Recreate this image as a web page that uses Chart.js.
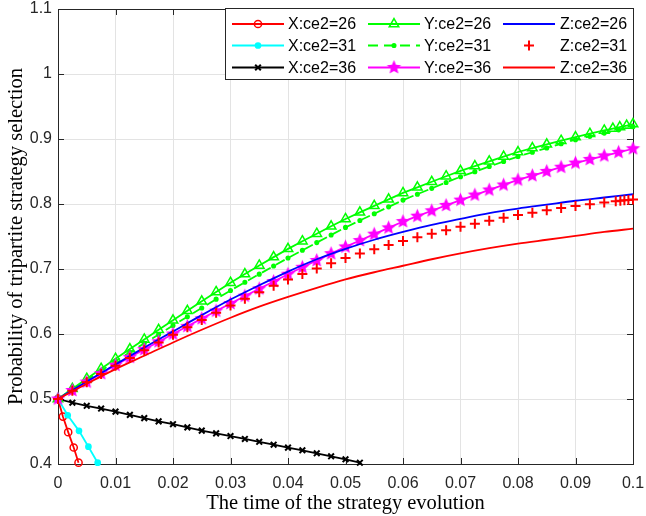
<!DOCTYPE html>
<html>
<head>
<meta charset="utf-8">
<script src="https://cdn.jsdelivr.net/npm/chart.js@4.4.7/dist/chart.umd.min.js"></script>
<style>
  html, body { margin: 0; padding: 0; background: #fff; }
  #wrap { width: 646px; height: 516px; }
</style>
</head>
<body>
<div id="wrap"><canvas id="c" width="646" height="516"></canvas></div>
<script>
// time grids
const tGrid = [0, 0.0025, 0.005, 0.0075, 0.01, 0.0125, 0.015, 0.0175, 0.02, 0.0225, 0.025, 0.0275, 0.03, 0.0325, 0.035, 0.0375, 0.04, 0.0425, 0.045, 0.0475, 0.05, 0.0525, 0.055, 0.0575, 0.06, 0.0625, 0.065, 0.0675, 0.07, 0.0725, 0.075, 0.0775, 0.08, 0.0825, 0.085, 0.0875, 0.09, 0.0925, 0.095, 0.0975, 0.1];
const tFine = [0, 0.005, 0.01, 0.015, 0.02, 0.025, 0.03, 0.035, 0.04, 0.045, 0.05, 0.055, 0.06, 0.065, 0.07, 0.075, 0.08, 0.085, 0.09, 0.095, 0.1];

const tX26 = [0, 0.00085, 0.00177, 0.00273, 0.00357];
const yX26 = [0.5, 0.473, 0.449, 0.4254, 0.402];
const tX31 = [0, 0.00169, 0.00365, 0.00529, 0.0069];
const yX31 = [0.5, 0.475, 0.451, 0.4266, 0.402];
const tX36 = [0, 0.0025, 0.005, 0.0075, 0.01, 0.0125, 0.015, 0.0175, 0.02, 0.0225, 0.025, 0.0275, 0.03, 0.0325, 0.035, 0.0375, 0.04, 0.0425, 0.045, 0.0475, 0.05, 0.0525];
const yX36 = [0.5, 0.4943, 0.4895, 0.4853, 0.4806, 0.4756, 0.4706, 0.4656, 0.4612, 0.4563, 0.4514, 0.4471, 0.443, 0.4385, 0.4342, 0.4297, 0.4252, 0.4211, 0.4165, 0.4118, 0.4072, 0.402];

const tY26 = [0, 0.0025, 0.005, 0.0075, 0.01, 0.0125, 0.015, 0.0175, 0.02, 0.0225, 0.025, 0.0275, 0.03, 0.0325, 0.035, 0.0375, 0.04, 0.0425, 0.045, 0.0475, 0.05, 0.0525, 0.055, 0.0575, 0.06, 0.0625, 0.065, 0.0675, 0.07, 0.0725, 0.075, 0.0775, 0.08, 0.0825, 0.085, 0.0875, 0.09, 0.0925, 0.095, 0.0965, 0.0977, 0.0989, 0.1];
const yY26 = [0.5, 0.5156, 0.5312, 0.5467, 0.562, 0.5769, 0.5917, 0.6064, 0.621, 0.6357, 0.6503, 0.6648, 0.679, 0.6923, 0.7054, 0.7183, 0.731, 0.7427, 0.7543, 0.7657, 0.777, 0.7872, 0.7972, 0.8072, 0.817, 0.8256, 0.8342, 0.8427, 0.851, 0.8584, 0.8657, 0.8729, 0.88, 0.886, 0.8918, 0.8975, 0.903, 0.9082, 0.9132, 0.916, 0.9183, 0.9206, 0.923];
const yY31 = [0.5, 0.5146, 0.5291, 0.5436, 0.558, 0.5718, 0.5856, 0.5993, 0.613, 0.6266, 0.6401, 0.6536, 0.667, 0.6796, 0.6921, 0.7046, 0.717, 0.7288, 0.7406, 0.7523, 0.764, 0.7746, 0.7851, 0.7956, 0.806, 0.8151, 0.8241, 0.8331, 0.842, 0.8498, 0.8576, 0.8653, 0.873, 0.8796, 0.8861, 0.8926, 0.899, 0.9041, 0.9091, 0.9141, 0.919];
const yY36 = [0.5, 0.5131, 0.5261, 0.5391, 0.552, 0.5641, 0.5761, 0.5881, 0.6, 0.6118, 0.6236, 0.6353, 0.647, 0.6583, 0.6696, 0.6808, 0.692, 0.7026, 0.7131, 0.7236, 0.734, 0.7438, 0.7536, 0.7633, 0.773, 0.7813, 0.7896, 0.7978, 0.806, 0.8138, 0.8216, 0.8293, 0.837, 0.8436, 0.8501, 0.8566, 0.863, 0.8686, 0.8741, 0.8796, 0.885];

const yZ26 = [0.5, 0.527, 0.553, 0.579, 0.604, 0.629, 0.653, 0.675, 0.696, 0.715, 0.731, 0.745, 0.757, 0.768, 0.777, 0.786, 0.793, 0.799, 0.805, 0.81, 0.815];
const tZ31 = [0, 0.0025, 0.005, 0.0075, 0.01, 0.0125, 0.015, 0.0175, 0.02, 0.0225, 0.025, 0.0275, 0.03, 0.0325, 0.035, 0.0375, 0.04, 0.0425, 0.045, 0.0475, 0.05, 0.0525, 0.055, 0.0575, 0.06, 0.0625, 0.065, 0.0675, 0.07, 0.0725, 0.075, 0.0775, 0.08, 0.0825, 0.085, 0.0875, 0.09, 0.0925, 0.095, 0.097, 0.0978, 0.0985, 0.0992, 0.1];
const yZ31 = [0.5, 0.5128, 0.5256, 0.5383, 0.551, 0.5631, 0.5751, 0.5871, 0.599, 0.6103, 0.6216, 0.6328, 0.644, 0.6541, 0.6641, 0.6741, 0.684, 0.6925, 0.7008, 0.709, 0.717, 0.7237, 0.7303, 0.7368, 0.743, 0.7487, 0.7543, 0.7597, 0.765, 0.7697, 0.7743, 0.7788, 0.783, 0.7867, 0.7903, 0.7938, 0.797, 0.7997, 0.8023, 0.8042, 0.8049, 0.8056, 0.8063, 0.807];
const yZ36 = [0.5, 0.5235, 0.546, 0.5665, 0.587, 0.6065, 0.625, 0.642, 0.657, 0.671, 0.684, 0.695, 0.705, 0.715, 0.724, 0.732, 0.739, 0.745, 0.751, 0.757, 0.762];

const seriesNames = ['X:ce2=26', 'X:ce2=31', 'X:ce2=36', 'Y:ce2=26', 'Y:ce2=31', 'Y:ce2=36', 'Z:ce2=26', 'Z:ce2=31', 'Z:ce2=36'];
const xTickValues = [0, 0.01, 0.02, 0.03, 0.04, 0.05, 0.06, 0.07, 0.08, 0.09, 0.1];
const xTickLabels = ['0', '0.01', '0.02', '0.03', '0.04', '0.05', '0.06', '0.07', '0.08', '0.09', '0.1'];
const yTickValues = [0.4, 0.5, 0.6, 0.7, 0.8, 0.9, 1, 1.1];
const yTickLabels = ['0.4', '0.5', '0.6', '0.7', '0.8', '0.9', '1', '1.1'];

const pts = (ts, ys) => ts.map((t, i) => ({ x: t, y: ys[i] }));

function makeStar(r, color) {
  const c = document.createElement('canvas');
  const s = Math.ceil(r * 2 + 2);
  c.width = s; c.height = s;
  const g = c.getContext('2d');
  g.fillStyle = color;
  g.beginPath();
  for (let k = 0; k < 10; k += 1) {
    const ang = -Math.PI / 2 + k * Math.PI / 5;
    const rr = k % 2 ? r * 0.45 : r;
    g.lineTo(s / 2 + rr * Math.cos(ang), s / 2 + rr * Math.sin(ang));
  }
  g.closePath();
  g.fill();
  return c;
}
const starImg = makeStar(7.5, '#ff00ff');

const tickFont = '"Liberation Sans", Arial, sans-serif';
const titleFont = '"Liberation Serif", "Times New Roman", serif';

const base = { fill: false, tension: 0, borderWidth: 1.8, pointBorderWidth: 1.5, clip: 10 };
const datasets = [
  { ...base, label: seriesNames[0], data: pts(tX26, yX26), borderColor: '#ff0000', pointStyle: 'circle', pointRadius: 3.6, pointBackgroundColor: 'rgba(0,0,0,0)', pointBorderColor: '#ff0000' },
  { ...base, label: seriesNames[1], data: pts(tX31, yX31), borderColor: '#00ffff', pointStyle: 'circle', pointRadius: 2.6, pointBackgroundColor: '#00ffff', pointBorderColor: '#00ffff' },
  { ...base, label: seriesNames[2], data: pts(tX36, yX36), borderColor: '#000000', pointStyle: 'crossRot', pointRadius: 4, pointBorderWidth: 2, pointBorderColor: '#000000' },
  { ...base, label: seriesNames[3], data: pts(tY26, yY26), borderColor: '#00ff00', pointStyle: 'triangle', pointRadius: 5.5, pointBackgroundColor: 'rgba(0,0,0,0)', pointBorderColor: '#00ff00' },
  { ...base, label: seriesNames[4], data: pts(tGrid, yY31), borderColor: '#00ff00', borderDash: [10, 6], pointStyle: 'circle', pointRadius: 1.8, pointBackgroundColor: '#00ff00', pointBorderColor: '#00ff00' },
  { ...base, label: seriesNames[5], data: pts(tGrid, yY36), borderColor: '#ff00ff', pointStyle: starImg, pointRadius: 7 },
  { ...base, label: seriesNames[6], data: pts(tFine, yZ26), borderColor: '#0000ff', pointRadius: 0, cubicInterpolationMode: 'monotone' },
  { ...base, label: seriesNames[7], data: pts(tZ31, yZ31), borderColor: '#ff0000', showLine: false, pointStyle: 'cross', pointRadius: 5, pointBorderWidth: 2, pointBorderColor: '#ff0000' },
  { ...base, label: seriesNames[8], data: pts(tFine, yZ36), borderColor: '#ff0000', pointRadius: 0, cubicInterpolationMode: 'monotone' },
].map((d, i) => ({ ...d, order: 9 - i }));

// box and inward ticks, as in the original figure
const frame = {
  id: 'frame',
  beforeDatasetsDraw(chart) {
    const { ctx, chartArea: a, scales: { x, y } } = chart;
    ctx.save();
    ctx.strokeStyle = '#262626';
    ctx.lineWidth = 1;
    ctx.strokeRect(Math.round(a.left) + 0.5, Math.round(a.top) + 0.5, Math.round(a.right - a.left), Math.round(a.bottom - a.top));
    ctx.beginPath();
    xTickValues.forEach((v) => {
      const px = Math.round(x.getPixelForValue(v)) + 0.5;
      ctx.moveTo(px, a.bottom); ctx.lineTo(px, a.bottom - 6);
      ctx.moveTo(px, a.top); ctx.lineTo(px, a.top + 6);
    });
    yTickValues.forEach((v) => {
      const py = Math.round(y.getPixelForValue(v)) + 0.5;
      ctx.moveTo(a.left, py); ctx.lineTo(a.left + 6, py);
      ctx.moveTo(a.right, py); ctx.lineTo(a.right - 6, py);
    });
    ctx.stroke();
    ctx.restore();
  },
};

// 3 x 3 legend, filled column by column
const legendBox = {
  id: 'legendBox',
  afterDraw(chart) {
    const { ctx } = chart;
    const colSample = [232, 368, 503];
    const colText = [288, 424, 560];
    const rowY = [24, 45.5, 67.5];
    ctx.save();
    ctx.fillStyle = '#ffffff';
    ctx.fillRect(225.5, 8.5, 408, 71);
    ctx.strokeStyle = '#262626';
    ctx.lineWidth = 1;
    ctx.strokeRect(225.5, 8.5, 408, 71);
    chart.data.datasets.forEach((ds, i) => {
      const col = Math.floor(i / 3);
      const row = i % 3;
      const x0 = colSample[col];
      const yy = rowY[row];
      if (ds.showLine !== false) {
        ctx.save();
        ctx.strokeStyle = ds.borderColor;
        ctx.lineWidth = ds.borderWidth;
        ctx.setLineDash(ds.borderDash || []);
        ctx.beginPath();
        ctx.moveTo(x0, yy); ctx.lineTo(x0 + 52, yy);
        ctx.stroke();
        ctx.restore();
      }
      if (ds.pointRadius > 0) {
        ctx.save();
        ctx.strokeStyle = ds.pointBorderColor || ds.borderColor;
        ctx.fillStyle = ds.pointBackgroundColor || ds.borderColor;
        ctx.lineWidth = ds.pointBorderWidth;
        Chart.helpers.drawPoint(ctx, { pointStyle: ds.pointStyle, radius: ds.pointRadius, rotation: 0, borderWidth: ds.pointBorderWidth }, x0 + 26, yy);
        ctx.restore();
      }
      ctx.fillStyle = '#000000';
      ctx.font = '16px ' + tickFont;
      ctx.textBaseline = 'middle';
      ctx.textAlign = 'left';
      ctx.fillText(ds.label, colText[col], yy + 1);
    });
    ctx.restore();
  },
};

new Chart(document.getElementById('c'), {
  type: 'line',
  data: { datasets },
  plugins: [frame, legendBox],
  options: {
    responsive: false,
    animation: false,
    devicePixelRatio: 1,
    layout: { padding: { left: 0, top: 9, right: 13, bottom: 0 } },
    plugins: { legend: { display: false }, tooltip: { enabled: false } },
    scales: {
      x: {
        type: 'linear',
        min: 0,
        max: 0.1,
        afterBuildTicks: (s) => { s.ticks = xTickValues.map((v) => ({ value: v })); },
        afterFit: (s) => { s.height = 52; s.paddingLeft = 0; s.paddingRight = 0; },
        grid: { color: '#e3e3e3', drawTicks: false },
        border: { display: false },
        ticks: {
          color: '#262626',
          padding: 10,
          maxRotation: 0,
          autoSkip: false,
          font: { family: tickFont, size: 16 },
          callback: (v, i) => xTickLabels[i],
        },
        title: {
          display: true,
          text: 'The time of the strategy evolution',
          color: '#000000',
          padding: { top: 0, bottom: 0 },
          font: { family: titleFont, size: 20.5 },
        },
      },
      y: {
        type: 'linear',
        min: 0.4,
        max: 1.1,
        afterBuildTicks: (s) => { s.ticks = yTickValues.map((v) => ({ value: v })); },
        afterFit: (s) => { s.width = 58; s.paddingTop = 0; s.paddingBottom = 0; },
        grid: { color: '#e3e3e3', drawTicks: false },
        border: { display: false },
        ticks: {
          color: '#262626',
          padding: 6,
          autoSkip: false,
          font: { family: tickFont, size: 16 },
          callback: (v, i) => yTickLabels[i],
        },
        title: {
          display: true,
          text: 'Probability of tripartite strategy selection',
          color: '#000000',
          padding: { top: 4, bottom: 0 },
          font: { family: titleFont, size: 20.5 },
        },
      },
    },
  },
});
</script>
</body>
</html>
